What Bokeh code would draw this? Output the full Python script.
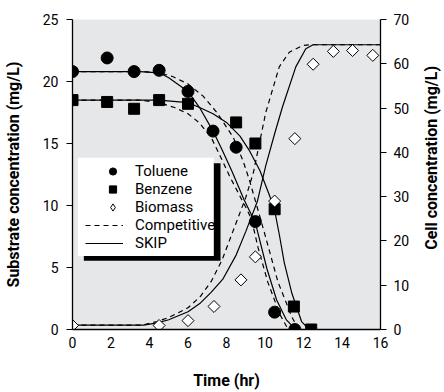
import numpy as np
from bokeh.plotting import figure
from bokeh.layouts import row
from bokeh.models import Range1d, LinearAxis, FixedTicker, Legend, LegendItem, BoxAnnotation, Label
from bokeh.embed import file_html
from bokeh.resources import INLINE

FONT = "Roboto"

# ---- measured data (points) ----
tol_t = [0.0, 1.8, 3.2, 4.5, 6.0, 7.3, 8.5, 9.5, 10.5, 11.55]
tol_s = [20.8, 21.9, 20.8, 20.9, 19.2, 16.0, 14.7, 8.7, 1.4, 0.0]
ben_t = [0.0, 1.8, 3.2, 4.5, 6.0, 8.5, 9.5, 10.5, 11.5, 12.4]
ben_s = [18.5, 18.35, 17.8, 18.5, 18.2, 16.7, 15.0, 9.7, 1.85, 0.0]
bio_t = [0.0, 4.5, 6.0, 7.35, 8.75, 9.5, 10.5, 11.55, 12.5, 13.55, 14.55, 15.6]
bio_c = [0.9, 0.9, 2.0, 5.2, 11.2, 16.4, 29.0, 43.1, 59.9, 62.8, 63.0, 61.9]

# ---- model curves ----
tol_skip_t = [0, 3.5, 4.5, 5.0, 6.0, 6.6, 7.3, 7.8, 8.3, 8.9, 9.5, 10.1, 10.6, 11.1, 11.5, 11.7]
tol_skip_s = [20.8, 20.8, 20.7, 20.3, 19.2, 17.9, 16.0, 14.4, 12.7, 10.5, 8.6, 4.9, 2.4, 0.8, 0.15, 0.0]
tol_comp_t = [0, 3.7, 4.5, 5.2, 6.0, 6.8, 7.5, 8.35, 8.86, 9.2, 9.9, 10.67, 11.4, 11.75]
tol_comp_s = [20.8, 20.8, 20.7, 20.4, 19.8, 18.8, 17.5, 15.5, 13.6, 12.0, 8.2, 3.85, 1.0, 0.0]
ben_skip_t = [0, 4.5, 6.0, 6.6, 7.3, 8.0, 8.7, 9.2, 9.74, 10.26, 10.5, 10.75, 11.0, 11.4, 11.9, 12.3]
ben_skip_s = [18.5, 18.5, 18.3, 17.9, 17.4, 16.7, 15.6, 14.4, 12.8, 10.7, 9.6, 7.6, 5.4, 2.9, 0.64, 0.0]
ben_comp_t = [0, 3.5, 4.5, 5.3, 6.0, 6.6, 7.2, 7.7, 8.15, 8.65, 9.07, 9.3, 9.64, 10.15, 10.78, 11.1, 11.2]
ben_comp_s = [18.5, 18.5, 18.3, 17.9, 17.4, 16.65, 15.5, 13.9, 12.4, 10.9, 9.65, 8.9, 6.6, 3.8, 1.2, 0.3, 0.0]
bio_skip_t = [0, 3.7, 4.4, 5.0, 6.0, 6.65, 7.2, 7.8, 8.5, 9.0, 9.6, 10.04, 10.5, 10.91, 11.6, 12.12, 12.5, 16.0]
bio_skip_c = [1.0, 1.0, 1.5, 2.2, 4.0, 6.0, 8.4, 11.3, 16.8, 22.1, 28.9, 37.0, 44.2, 50.3, 59.3, 63.4, 64.3, 64.3]
bio_comp_t = [0, 3.6, 4.4, 5.0, 6.0, 6.65, 7.2, 7.77, 8.45, 9.0, 9.4, 10.04, 10.74, 11.26, 11.95, 12.3, 16.0]
bio_comp_c = [1.0, 1.0, 1.8, 2.7, 4.9, 7.5, 10.8, 15.7, 23.5, 29.8, 35.5, 49.0, 59.3, 62.6, 64.1, 64.3, 64.3]

x_ticks = [0, 2, 4, 6, 8, 10, 12, 14, 16]
left_ticks = [0, 5, 10, 15, 20, 25]
right_ticks = [0, 10, 20, 30, 40, 50, 60, 70]

p = figure(width=412, height=392, output_backend="svg", toolbar_location=None,
           x_range=Range1d(0, 16), y_range=Range1d(0, 25),
           min_border_left=72, min_border_right=32, min_border_top=19, min_border_bottom=62)
p.extra_y_ranges = {"cell": Range1d(0, 70)}
p.background_fill_color = "#e6e7e8"
p.border_fill_color = "white"
p.outline_line_color = None
p.xgrid.visible = False
p.ygrid.visible = False

def style_axis(ax, size="14px"):
    ax.major_label_text_font = FONT
    ax.major_label_text_font_size = size
    ax.major_label_text_color = "black"
    ax.axis_label_text_font = FONT
    ax.axis_label_text_font_style = "bold"
    ax.axis_label_text_font_size = "16px"
    ax.axis_label_text_color = "black"
    ax.axis_line_color = "black"
    ax.axis_line_width = 1.3
    ax.major_tick_line_color = "black"
    ax.major_tick_line_width = 1.2
    ax.minor_tick_line_color = None
    ax.major_tick_in = 0

xa = p.xaxis[0]
style_axis(xa)
xa.ticker = FixedTicker(ticks=x_ticks)
xa.major_tick_out = 0
xa.major_label_standoff = 7
xa.axis_label = "Time (hr)"
xa.axis_label_standoff = 20

ya = p.yaxis[0]
style_axis(ya)
ya.ticker = FixedTicker(ticks=left_ticks)
ya.major_tick_out = 6
ya.major_label_standoff = 8
ya.axis_label = "Substrate concentration (mg/L)"
ya.axis_label_standoff = 17

ra = LinearAxis(y_range_name="cell")
style_axis(ra)
ra.ticker = FixedTicker(ticks=right_ticks)
ra.major_tick_out = 6
ra.major_label_standoff = 7
p.add_layout(ra, "right")

LW = 1.2
DASH = "5 4"
comp1 = p.line(tol_comp_t, tol_comp_s, line_color="black", line_width=LW, line_dash=DASH)
p.line(ben_comp_t, ben_comp_s, line_color="black", line_width=LW, line_dash=DASH)
p.line(bio_comp_t, bio_comp_c, line_color="black", line_width=LW, line_dash=DASH, y_range_name="cell")
skip1 = p.line(tol_skip_t, tol_skip_s, line_color="black", line_width=LW)
p.line(ben_skip_t, ben_skip_s, line_color="black", line_width=LW)
p.line(bio_skip_t, bio_skip_c, line_color="black", line_width=LW, y_range_name="cell")

# legend key for the biomass diamond, hidden beneath the first plotted diamond
r_bio_key = p.scatter(bio_t[:1], bio_c[:1], marker="diamond", size=12, fill_color="white",
                      line_color="black", line_width=1, y_range_name="cell")
r_tol = p.scatter(tol_t, tol_s, marker="circle", size=12, fill_color="black", line_color="black")
r_ben = p.scatter(ben_t, ben_s, marker="square", size=11, fill_color="black", line_color="black")
r_bio = p.scatter(bio_t, bio_c, marker="square", angle=np.pi / 4, size=8.5, fill_color="white",
                  line_color="black", line_width=1, y_range_name="cell")

# legend box with drop shadow
shadow = BoxAnnotation(left=0.59, right=7.69, top=13.4, bottom=5.55,
                       fill_color="black", fill_alpha=1, line_color=None)
box = BoxAnnotation(left=0.28, right=7.34, top=13.86, bottom=5.93,
                    fill_color="white", fill_alpha=1, line_color=None)
p.add_layout(shadow)
p.add_layout(box)

def make_legend(items, loc, gw):
    lg = Legend(items=items, location=loc)
    lg.background_fill_alpha = 0
    lg.border_line_color = None
    lg.padding = 0
    lg.margin = 0
    lg.spacing = 0
    lg.glyph_width = gw
    lg.glyph_height = 18
    lg.label_height = 18
    lg.label_standoff = 12
    lg.label_text_font = FONT
    lg.label_text_font_size = "15px"
    lg.label_text_color = "black"
    return lg

legend_marks = make_legend([
    LegendItem(label="Toluene", renderers=[r_tol]),
    LegendItem(label="Benzene", renderers=[r_ben]),
    LegendItem(label="Biomass", renderers=[r_bio_key]),
], (30, 113), 21)
legend_lines = make_legend([
    LegendItem(label="Competitive", renderers=[comp1]),
    LegendItem(label="SKIP", renderers=[skip1]),
], (13, 77), 38)
p.add_layout(legend_marks)
p.add_layout(legend_lines)

# narrow strip to the right carrying the right-hand axis title (reads bottom to top)
p2 = figure(width=32, height=392, output_backend="svg", toolbar_location=None,
            x_range=Range1d(0, 32), y_range=Range1d(0, 392),
            x_axis_location=None, y_axis_location=None,
            min_border_left=0, min_border_right=0, min_border_top=0, min_border_bottom=0)
p2.outline_line_color = None
p2.grid.visible = False
p2.background_fill_color = "white"
p2.border_fill_color = "white"
p2.add_layout(Label(x=19, y=217, text="Cell concentration (mg/L)", angle=np.pi / 2,
                    text_align="center", text_baseline="middle", text_font=FONT,
                    text_font_style="bold", text_font_size="16px", text_color="black"))

layout = row(p, p2, spacing=0)
open("out.html", "w").write(file_html(layout, INLINE))
